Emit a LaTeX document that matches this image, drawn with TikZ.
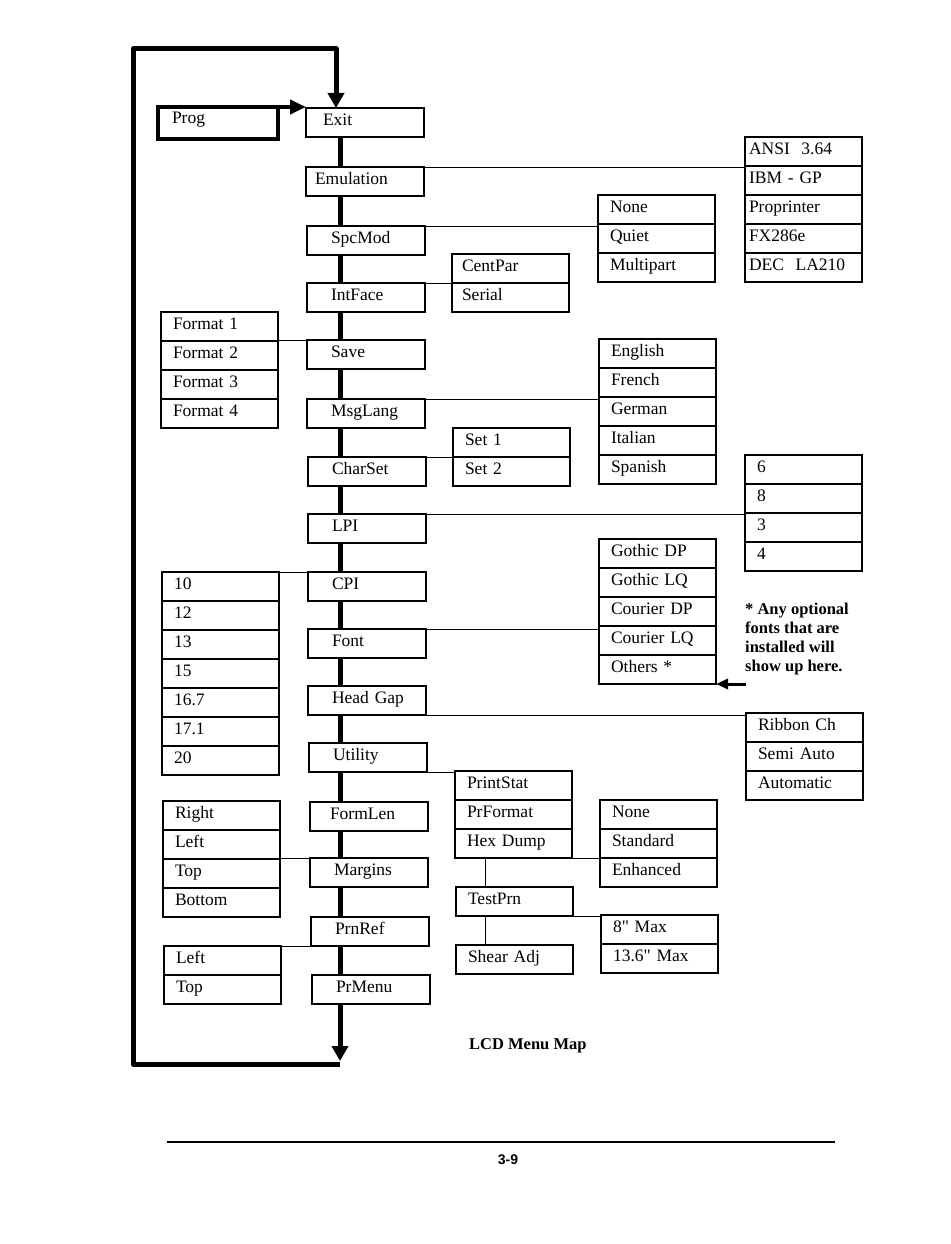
\documentclass[tikz,border=0pt]{standalone}
\usepackage{fontspec}
\setmainfont{Liberation Serif}
\newfontfamily\pagefont{Liberation Sans}
\usetikzlibrary{arrows.meta,positioning,backgrounds}
\tikzset{
  menu/.style={draw, line width=1.5pt, fill=white, outer sep=0pt, anchor=north west, align=left,
               inner xsep=24pt, text width=70pt, inner ysep=2pt, text height=15pt, text depth=10pt},
  pick/.style={draw, line width=1.5pt, fill=white, outer sep=0pt, align=left,
               inner xsep=12pt, text width=93pt, inner ysep=2pt, text height=15pt, text depth=10pt},
  link/.style={line width=0.9pt},
  loopline/.style={line width=5pt, line join=round, -{Triangle[length=15pt,width=16pt]}},
  note/.style={font=\bfseries\fontsize{16.5}{19}\selectfont, align=left, inner sep=0pt},
}

\begin{document}
\begin{tikzpicture}[x=1pt, y=-1pt, node distance=0pt, font=\fontsize{17.5}{20}\selectfont]
  \useasboundingbox (0,0) rectangle (950,1244);

  % main menu column
  \node[draw, line width=4pt, outer sep=0pt, anchor=north west, align=left, inner xsep=14pt,
        text width=92pt, inner ysep=2pt, text height=15pt, text depth=13pt] (prog) at (158,107) {Prog};
  \node[menu, inner xsep=17pt, text width=84pt] (exit) at (306,108) {Exit};
  \node[menu, inner xsep=9pt, text width=100pt] (emul) at (306,167) {Emulation};
  \node[menu] (spcmod) at (307,226) {SpcMod};
  \node[menu] (intface) at (307,283) {IntFace};
  \node[menu] (save) at (307,340) {Save};
  \node[menu] (msglang) at (307,399) {MsgLang};
  \node[menu] (charset) at (308,457) {CharSet};
  \node[menu] (lpi) at (308,514) {LPI};
  \node[menu] (cpi) at (308,572) {CPI};
  \node[menu] (font) at (308,629) {Font};
  \node[menu] (headgap) at (308,686) {\mbox{Head Gap}};
  \node[menu] (utility) at (309,743) {Utility};
  \node[menu, inner xsep=20pt, text width=78pt] (formlen) at (310,802) {FormLen};
  \node[menu] (margins) at (310,858) {Margins};
  \node[menu] (prnref) at (311,917) {PrnRef};
  \node[menu] (prmenu) at (312,975) {PrMenu};

  % loop back to Exit
  \coordinate (back) at (340,1064);
  \coordinate (corner) at (133,49);
  \begin{scope}[on background layer]
    \draw[loopline] (back |- exit.south) -- ([yshift=3pt]back);
  \end{scope}
  \draw[loopline] (back) -| (corner) -| ([xshift=30pt]exit.north west);
  \draw[loopline, line width=4pt, -{Triangle[length=16pt,width=14pt]}] (prog.north east) -- (prog.north east -| exit.west);

  % Emulation
  \node[pick, anchor=north west, inner xsep=4pt, text width=109pt] (ansi) at (745,137) {ANSI\ \ 3.64};
  \node[pick, inner xsep=4pt, text width=109pt, below=of ansi] (ibmgp) {IBM - GP};
  \node[pick, inner xsep=4pt, text width=109pt, below=of ibmgp] (propr) {Proprinter};
  \node[pick, inner xsep=4pt, text width=109pt, below=of propr] (fx) {FX286e};
  \node[pick, inner xsep=4pt, text width=109pt, below=of fx] (dec) {DEC\ \ LA210};
  \draw[link] (emul.north east) -- (emul.north east -| ansi.west);

  % SpcMod
  \node[pick, anchor=north west] (spnone) at (598,195) {None};
  \node[pick, below=of spnone] (quiet) {Quiet};
  \node[pick, below=of quiet] (multi) {Multipart};
  \draw[link] (spcmod.north east) -- (spcmod.north east -| quiet.west);

  % IntFace
  \node[pick, anchor=north west, inner xsep=10pt, text width=97pt] (centpar) at (452,254) {CentPar};
  \node[pick, inner xsep=10pt, text width=97pt, below=of centpar] (serial) {Serial};
  \draw[link] (intface.north east) -- (intface.north east -| serial.west);

  % Save
  \node[pick, anchor=north west] (fmt1) at (161,312) {Format 1};
  \node[pick, below=of fmt1] (fmt2) {Format 2};
  \node[pick, below=of fmt2] (fmt3) {Format 3};
  \node[pick, below=of fmt3] (fmt4) {Format 4};
  \draw[link] (save.north west) -- (save.north west -| fmt1.east);

  % MsgLang
  \node[pick, anchor=north west] (english) at (599,339) {English};
  \node[pick, below=of english] (french) {French};
  \node[pick, below=of french] (german) {German};
  \node[pick, below=of german] (italian) {Italian};
  \node[pick, below=of italian] (spanish) {Spanish};
  \draw[link] (msglang.north east) -- (msglang.north east -| german.west);

  % CharSet
  \node[pick, anchor=north west] (set1) at (453,428) {Set 1};
  \node[pick, below=of set1] (set2) {Set 2};
  \draw[link] (charset.north east) -- (charset.north east -| set2.west);

  % LPI
  \node[pick, anchor=north west] (lpi6) at (745,455) {6};
  \node[pick, below=of lpi6] (lpi8) {8};
  \node[pick, below=of lpi8] (lpi3) {3};
  \node[pick, below=of lpi3] (lpi4) {4};
  \draw[link] (lpi.north east) -- (lpi.north east -| lpi3.west);

  % CPI
  \node[pick, anchor=north west] (cpi10) at (162,572) {10};
  \node[pick, below=of cpi10] (cpi12) {12};
  \node[pick, below=of cpi12] (cpi13) {13};
  \node[pick, below=of cpi13] (cpi15) {15};
  \node[pick, below=of cpi15] (cpi167) {16.7};
  \node[pick, below=of cpi167] (cpi171) {17.1};
  \node[pick, below=of cpi171] (cpi20) {20};
  \draw[link] (cpi.north west) -- (cpi.north west -| cpi10.east);

  % Font
  \node[pick, anchor=north west] (gothdp) at (599,539) {Gothic DP};
  \node[pick, below=of gothdp] (gothlq) {Gothic LQ};
  \node[pick, below=of gothlq] (courdp) {Courier DP};
  \node[pick, below=of courdp] (courlq) {Courier LQ};
  \node[pick, below=of courlq] (others) {Others *};
  \draw[link] (font.north east) -- (font.north east -| courlq.west);
  \node[note, anchor=north west] (optnote) at (745,603) {* Any optional\\fonts that are\\installed will\\show up here.};
  \coordinate (notetip) at (746,684);
  \draw[line width=3pt, -{Triangle[length=12pt,width=10pt]}] (notetip) -- (notetip -| others.east);

  % Head Gap
  \node[pick, anchor=north west] (ribbon) at (746,713) {Ribbon Ch};
  \node[pick, below=of ribbon] (semi) {Semi Auto};
  \node[pick, below=of semi] (auto) {Automatic};
  \draw[link] (headgap.south east) -- (headgap.south east -| ribbon.west);

  % Utility
  \node[pick, anchor=north west] (printstat) at (455,771) {PrintStat};
  \node[pick, below=of printstat] (prformat) {PrFormat};
  \node[pick, below=of prformat] (hexdump) {Hex Dump};
  \draw[link] (utility.south east) -- (utility.south east -| printstat.west);
  \node[pick, anchor=north west] (pfnone) at (600,800) {None};
  \node[pick, below=of pfnone] (standard) {Standard};
  \node[pick, below=of standard] (enhanced) {Enhanced};
  \draw[link] (hexdump.south east) -- (hexdump.south east -| enhanced.west);
  \node[pick, anchor=north west] (testprn) at (456,887) {TestPrn};
  \draw[link] ([xshift=30pt]hexdump.south west) -- ([xshift=29pt]testprn.north west);
  \node[pick, anchor=north west] (max8) at (601,915) {8\textquotedbl{} Max};
  \node[pick, below=of max8] (max136) {13.6\textquotedbl{} Max};
  \draw[link] (testprn.south east) -- (testprn.south east -| max8.west);
  \node[pick, anchor=north west] (shear) at (456,945) {Shear Adj};
  \draw[link] ([xshift=29pt]testprn.south west) -- ([xshift=29pt]shear.north west);

  % Margins
  \node[pick, anchor=north west] (mright) at (163,801) {Right};
  \node[pick, below=of mright] (mleft) {Left};
  \node[pick, below=of mleft] (mtop) {Top};
  \node[pick, below=of mtop] (mbottom) {Bottom};
  \draw[link] (margins.north west) -- (margins.north west -| mtop.east);

  % PrnRef
  \node[pick, anchor=north west] (rleft) at (164,946) {Left};
  \node[pick, below=of rleft] (rtop) {Top};
  \draw[link] (prnref.south west) -- (prnref.south west -| rleft.east);

  % caption and page footer
  \node[font=\bfseries\fontsize{16.5}{18}\selectfont, anchor=base west, inner sep=0pt] (caption) at (469,1049) {LCD Menu Map};
  \draw[line width=1.6pt] (167,1142) -- (835,1142);
  \node[font=\pagefont\bfseries\fontsize{14}{16}\selectfont] (pageno) at (508,1160) {3-9};
\end{tikzpicture}
\end{document}
